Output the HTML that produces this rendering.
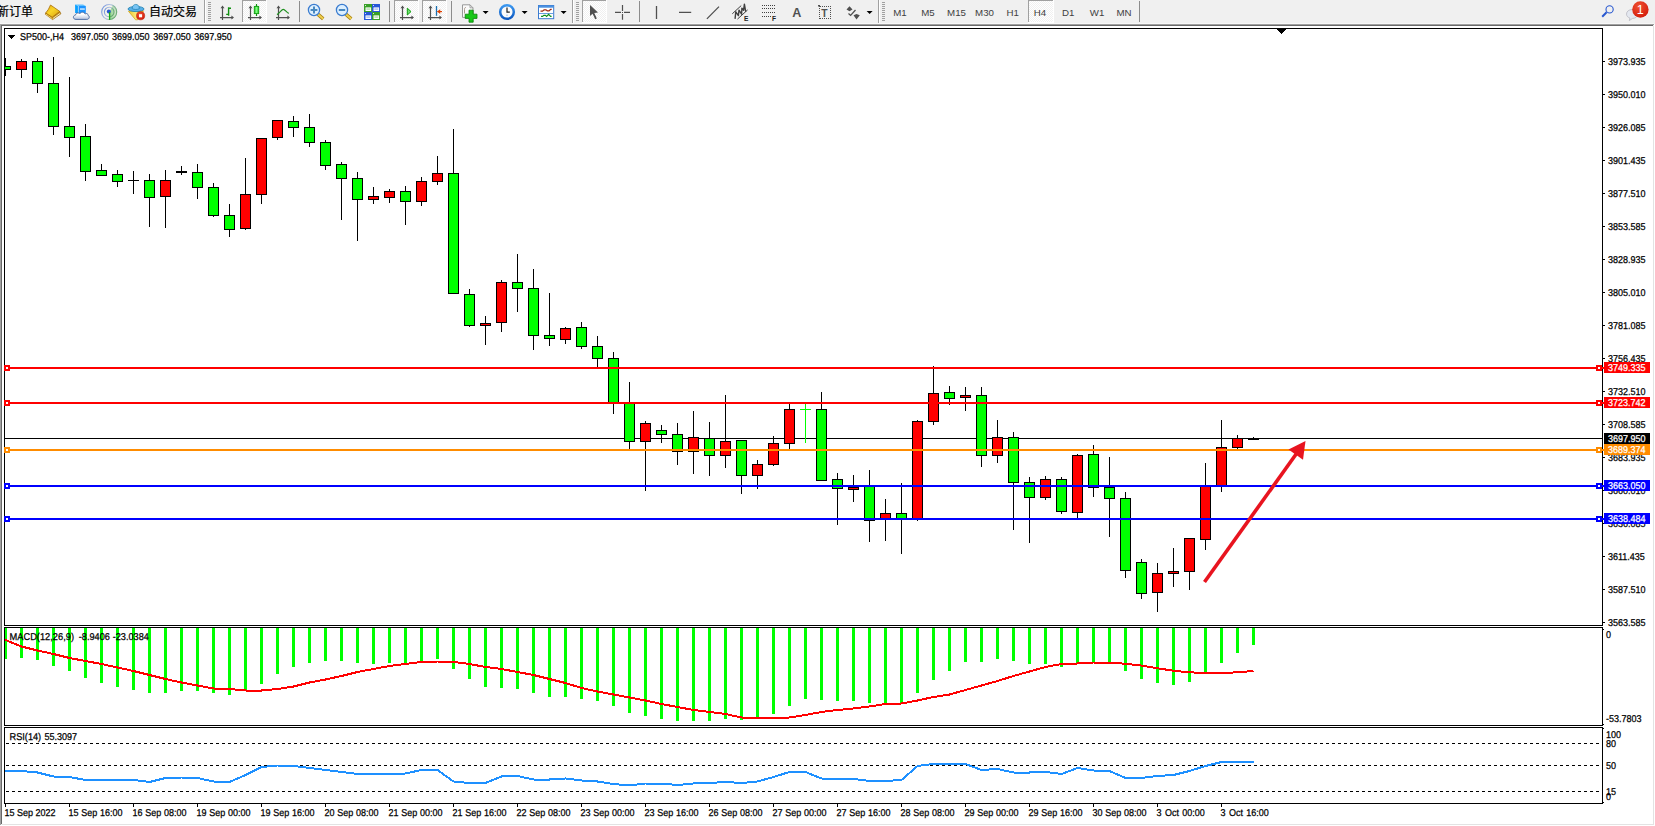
<!DOCTYPE html>
<html><head><meta charset="utf-8"><title>SP500-,H4</title>
<style>
html,body{margin:0;padding:0;}
body{width:1655px;height:826px;overflow:hidden;background:#f0f0f0;position:relative;font-family:"Liberation Sans","Noto Sans CJK SC",sans-serif;}


</style></head><body>
<svg width="1655" height="24" viewBox="0 0 1655 24" style="position:absolute;left:0;top:0" font-family="Liberation Sans, Noto Sans CJK SC, sans-serif">
<defs>
<pattern id="chk" width="2" height="2" patternUnits="userSpaceOnUse"><rect width="2" height="2" fill="#fff"/><rect width="1" height="1" fill="#f0f0f0"/><rect x="1" y="1" width="1" height="1" fill="#f0f0f0"/></pattern>
<linearGradient id="gold" x1="0" y1="0" x2="1" y2="1"><stop offset="0" stop-color="#e8b010"/><stop offset="0.45" stop-color="#f8d428"/><stop offset="1" stop-color="#d8a010"/></linearGradient>
<linearGradient id="gcan" x1="0" y1="0" x2="1" y2="0"><stop offset="0" stop-color="#20c020"/><stop offset="0.5" stop-color="#80ff80"/><stop offset="1" stop-color="#20c020"/></linearGradient>
<radialGradient id="redb" cx="0.4" cy="0.3" r="0.8"><stop offset="0" stop-color="#f05030"/><stop offset="1" stop-color="#d01808"/></radialGradient>
<linearGradient id="hdl" x1="0" y1="0" x2="1" y2="0"><stop offset="0" stop-color="#f8e070"/><stop offset="1" stop-color="#c09010"/></linearGradient>
<linearGradient id="clk" x1="0" y1="0" x2="0" y2="1"><stop offset="0" stop-color="#3c98f0"/><stop offset="1" stop-color="#0c58c0"/></linearGradient>
<linearGradient id="cld" x1="0" y1="0" x2="0" y2="1"><stop offset="0.3" stop-color="#ffffff"/><stop offset="1" stop-color="#b4c2dc"/></linearGradient>
<linearGradient id="rrg" x1="0" y1="0" x2="1" y2="0.4"><stop offset="0" stop-color="#3a68d8"/><stop offset="0.5" stop-color="#9ab0e0"/><stop offset="1" stop-color="#4a9858"/></linearGradient>
<linearGradient id="rsw" x1="0" y1="0" x2="1" y2="0"><stop offset="0" stop-color="#30b030"/><stop offset="1" stop-color="#c8e0c0"/></linearGradient>
<linearGradient id="fun" x1="0" y1="0" x2="1" y2="0"><stop offset="0" stop-color="#f0c828"/><stop offset="0.5" stop-color="#fbe878"/><stop offset="1" stop-color="#f0c030"/></linearGradient>
</defs>
<g shape-rendering="crispEdges">
<rect x="204" y="0" width="1" height="24" fill="#a0a0a0"/><rect x="205" y="0" width="1" height="24" fill="#fff"/>
<rect x="208" y="2" width="3" height="1" fill="#a0a0a0"/>
<rect x="208" y="4" width="3" height="1" fill="#a0a0a0"/>
<rect x="208" y="6" width="3" height="1" fill="#a0a0a0"/>
<rect x="208" y="8" width="3" height="1" fill="#a0a0a0"/>
<rect x="208" y="10" width="3" height="1" fill="#a0a0a0"/>
<rect x="208" y="12" width="3" height="1" fill="#a0a0a0"/>
<rect x="208" y="14" width="3" height="1" fill="#a0a0a0"/>
<rect x="208" y="16" width="3" height="1" fill="#a0a0a0"/>
<rect x="208" y="18" width="3" height="1" fill="#a0a0a0"/>
<rect x="208" y="20" width="3" height="1" fill="#a0a0a0"/>
<rect x="242" y="0" width="25" height="23" fill="url(#chk)"/>
<rect x="242" y="0" width="25" height="1" fill="#a0a0a0"/><rect x="242" y="0" width="1" height="22" fill="#a0a0a0"/>
<rect x="242" y="22" width="25" height="1" fill="#fff"/><rect x="266" y="0" width="1" height="23" fill="#fff"/>
<rect x="394" y="0" width="25" height="23" fill="url(#chk)"/>
<rect x="394" y="0" width="25" height="1" fill="#a0a0a0"/><rect x="394" y="0" width="1" height="22" fill="#a0a0a0"/>
<rect x="394" y="22" width="25" height="1" fill="#fff"/><rect x="418" y="0" width="1" height="23" fill="#fff"/>
<rect x="422" y="0" width="25" height="23" fill="url(#chk)"/>
<rect x="422" y="0" width="25" height="1" fill="#a0a0a0"/><rect x="422" y="0" width="1" height="22" fill="#a0a0a0"/>
<rect x="422" y="22" width="25" height="1" fill="#fff"/><rect x="446" y="0" width="1" height="23" fill="#fff"/>
<rect x="299" y="1" width="1" height="21" fill="#8c8c8c"/>
<rect x="389" y="1" width="1" height="21" fill="#8c8c8c"/>
<rect x="451" y="1" width="1" height="21" fill="#8c8c8c"/>
<rect x="572" y="0" width="1" height="24" fill="#a0a0a0"/><rect x="573" y="0" width="1" height="24" fill="#fff"/>
<rect x="576" y="2" width="3" height="1" fill="#a0a0a0"/>
<rect x="576" y="4" width="3" height="1" fill="#a0a0a0"/>
<rect x="576" y="6" width="3" height="1" fill="#a0a0a0"/>
<rect x="576" y="8" width="3" height="1" fill="#a0a0a0"/>
<rect x="576" y="10" width="3" height="1" fill="#a0a0a0"/>
<rect x="576" y="12" width="3" height="1" fill="#a0a0a0"/>
<rect x="576" y="14" width="3" height="1" fill="#a0a0a0"/>
<rect x="576" y="16" width="3" height="1" fill="#a0a0a0"/>
<rect x="576" y="18" width="3" height="1" fill="#a0a0a0"/>
<rect x="576" y="20" width="3" height="1" fill="#a0a0a0"/>
<rect x="582" y="0" width="25" height="23" fill="url(#chk)"/>
<rect x="582" y="0" width="25" height="1" fill="#a0a0a0"/><rect x="582" y="0" width="1" height="22" fill="#a0a0a0"/>
<rect x="582" y="22" width="25" height="1" fill="#fff"/><rect x="606" y="0" width="1" height="23" fill="#fff"/>
<rect x="639" y="1" width="1" height="21" fill="#8c8c8c"/>
<rect x="878" y="0" width="1" height="24" fill="#a0a0a0"/><rect x="879" y="0" width="1" height="24" fill="#fff"/>
<rect x="882" y="2" width="3" height="1" fill="#a0a0a0"/>
<rect x="882" y="4" width="3" height="1" fill="#a0a0a0"/>
<rect x="882" y="6" width="3" height="1" fill="#a0a0a0"/>
<rect x="882" y="8" width="3" height="1" fill="#a0a0a0"/>
<rect x="882" y="10" width="3" height="1" fill="#a0a0a0"/>
<rect x="882" y="12" width="3" height="1" fill="#a0a0a0"/>
<rect x="882" y="14" width="3" height="1" fill="#a0a0a0"/>
<rect x="882" y="16" width="3" height="1" fill="#a0a0a0"/>
<rect x="882" y="18" width="3" height="1" fill="#a0a0a0"/>
<rect x="882" y="20" width="3" height="1" fill="#a0a0a0"/>
<rect x="1028" y="0" width="26" height="23" fill="url(#chk)"/>
<rect x="1028" y="0" width="26" height="1" fill="#a0a0a0"/><rect x="1028" y="0" width="1" height="22" fill="#a0a0a0"/>
<rect x="1028" y="22" width="26" height="1" fill="#fff"/><rect x="1053" y="0" width="1" height="23" fill="#fff"/>
<rect x="1139" y="1" width="1" height="21" fill="#8c8c8c"/>
</g>
<text x="-3" y="15.8" font-size="12" fill="#000" stroke="#000" stroke-width="0.2">新订单</text>
<path d="M45.2,14.1 L52.6,19.6 L60.9,13.8 L59.8,11.4 L52.2,17.2 L45.8,13 Z" fill="#c89018" stroke="#9a6408" stroke-width="0.7" stroke-linejoin="round"/>
<path d="M52.9,18.5 L60.2,13.3" fill="none" stroke="#eee4b0" stroke-width="1"/>
<path d="M45.8,14 L52.3,18.6" fill="none" stroke="#f4d868" stroke-width="0.9"/>
<path d="M50.5,5 L59.8,11.4 L52.2,17.2 L45.7,13 Q48.8,9.6 50.5,5 Z" fill="url(#gold)" stroke="#a86c08" stroke-width="0.8" stroke-linejoin="round"/>
<path d="M75.1,4.6 L78.2,6 V13 H75.1 Z" fill="#08a0ff"/>
<path d="M75.1,4.4 H83 L85.8,6 H78.2 Z" fill="#60c0ff"/>
<rect x="78.4" y="6" width="7.4" height="7" fill="#1c94ff"/>
<path d="M78.3,6V13" stroke="#d8f0ff" stroke-width="0.5"/>
<rect x="80" y="8.4" width="4.8" height="1.3" fill="#e4f4ff"/>
<path d="M76,19.4 C72.6,19.4 72.6,15.4 75.6,15 C75.8,12.8 78.6,12.2 79.8,13.8 C80.6,11.6 84.4,11.6 85,14 C86.4,13 88.4,13.8 88,15.4 C90,16 89.6,19.4 86.8,19.4 Z" fill="url(#cld)" stroke="#44649c" stroke-width="0.9"/>
<circle cx="109.2" cy="12" r="8" fill="#f2f2ec"/>
<path d="M109.2,12 L109.2,20 A8,8 0 0 0 117.2,12 A8,8 0 0 0 113.2,5.1 Z" fill="url(#rsw)" opacity="0.5"/>
<g fill="none" stroke-width="1.1" opacity="0.75"><circle cx="109.2" cy="12" r="7.5" stroke="url(#rrg)"/><circle cx="109.2" cy="12" r="4.8" stroke="url(#rrg)"/></g>
<circle cx="108.8" cy="11.6" r="2" fill="#2858d0"/><path d="M109.6,12V19.9" stroke="#18a818" stroke-width="1.3"/>
<path d="M128.4,11.2 L143.6,10.8 L137.6,19.8 H135.6 Z" fill="url(#fun)" stroke="#d0a010" stroke-width="0.7" stroke-linejoin="round"/>
<ellipse cx="136" cy="9" rx="8" ry="2.6" fill="#58b0e8" stroke="#2080b0" stroke-width="0.8"/><path d="M132.2,8.6 C132.2,3 139.4,3 139.4,8.6 C137.5,9.8 134,9.8 132.2,8.6Z" fill="#78c4f4" stroke="#2080b0" stroke-width="0.7"/>
<circle cx="140.6" cy="15.75" r="4.1" fill="url(#redb)" stroke="#b81800" stroke-width="0.5"/><rect x="139" y="14.2" width="3.1" height="3.1" fill="#fff"/>
<text x="149" y="15.8" font-size="12" fill="#000" stroke="#000" stroke-width="0.2">自动交易</text>
<g stroke="#505050" stroke-width="1.2" fill="none"><path d="M222.5,6.8V20M220,17.6H233"/></g>
<path d="M222.5,5.6l-2,2.6h4zM234,17.6l-2.6,-2v4z" fill="#505050"/>
<path d="M228.6,7.3V15.8M228.6,8.3H231M228.6,14.4H226.2" stroke="#109010" stroke-width="1.4" fill="none"/>
<g stroke="#505050" stroke-width="1.2" fill="none"><path d="M250.5,6.8V20M248,17.6H261"/></g>
<path d="M250.5,5.6l-2,2.6h4zM262,17.6l-2.6,-2v4z" fill="#505050"/>
<path d="M256.5,4V16" stroke="#109010" stroke-width="1.2"/><rect x="254.3" y="6.4" width="4.4" height="7.2" fill="url(#gcan)" stroke="#10a010" stroke-width="0.9"/>
<g stroke="#505050" stroke-width="1.2" fill="none"><path d="M278.5,6.8V20M276,17.6H289"/></g>
<path d="M278.5,5.6l-2,2.6h4zM290,17.6l-2.6,-2v4z" fill="#505050"/>
<path d="M277,14.6 C280,13 281.5,9.3 283.3,9.3 C285,9.3 286.5,12.5 288.8,13.4" stroke="#209020" stroke-width="1.2" fill="none"/>
<path d="M317.8,14.2 L323.2,18.8" stroke="#a88010" stroke-width="3.6" stroke-linecap="butt"/><path d="M317.8,14.2 L323.2,18.8" stroke="#f0d050" stroke-width="2" />
<circle cx="314" cy="10" r="5.6" fill="#dcefff" stroke="#3a7cd0" stroke-width="1.3"/>
<path d="M310.6,10H317.4M314,6.6V13.4" stroke="#4888c0" stroke-width="2"/>
<path d="M345.8,14.2 L351.2,18.8" stroke="#a88010" stroke-width="3.6" stroke-linecap="butt"/><path d="M345.8,14.2 L351.2,18.8" stroke="#f0d050" stroke-width="2" />
<circle cx="342" cy="10" r="5.6" fill="#dcefff" stroke="#3a7cd0" stroke-width="1.3"/>
<path d="M338.8,10H345.2" stroke="#4888c0" stroke-width="2"/>
<rect x="364" y="4" width="8" height="8" fill="#38a028"/><rect x="365.5" y="7.4" width="5.6" height="3.6" fill="#fff"/><rect x="366.3" y="8.6" width="4" height="0.9" fill="#38a028" opacity="0.6"/><rect x="365" y="5" width="1" height="1" fill="#fff" opacity="0.8"/>
<rect x="372" y="4" width="8" height="8" fill="#2858d8"/><rect x="373.5" y="7.4" width="5.6" height="3.6" fill="#fff"/><rect x="374.3" y="8.6" width="4" height="0.9" fill="#2858d8" opacity="0.6"/><rect x="373" y="5" width="1" height="1" fill="#fff" opacity="0.8"/>
<rect x="364" y="12" width="8" height="8" fill="#2858d8"/><rect x="365.5" y="15.4" width="5.6" height="3.6" fill="#fff"/><rect x="366.3" y="16.6" width="4" height="0.9" fill="#2858d8" opacity="0.6"/><rect x="365" y="13" width="1" height="1" fill="#fff" opacity="0.8"/>
<rect x="372" y="12" width="8" height="8" fill="#38a028"/><rect x="373.5" y="15.4" width="5.6" height="3.6" fill="#fff"/><rect x="374.3" y="16.6" width="4" height="0.9" fill="#38a028" opacity="0.6"/><rect x="373" y="13" width="1" height="1" fill="#fff" opacity="0.8"/>
<g stroke="#505050" stroke-width="1.2" fill="none"><path d="M402.5,6.8V20M400,17.6H413"/></g>
<path d="M402.5,5.6l-2,2.6h4zM414,17.6l-2.6,-2v4z" fill="#505050"/>
<path d="M407.3,8.2V15L411,11.6Z" fill="#70e070" stroke="#10a010" stroke-width="1"/>
<g stroke="#505050" stroke-width="1.2" fill="none"><path d="M430.5,6.8V20M428,17.6H441"/></g>
<path d="M430.5,5.6l-2,2.6h4zM442,17.6l-2.6,-2v4z" fill="#505050"/>
<path d="M436.5,6V15.8" stroke="#1a6fb0" stroke-width="1.3"/><path d="M437.4,11.6H442" stroke="#e04000" stroke-width="1.2"/><path d="M437.2,11.6l3,-2.4v4.8z" fill="#e04000"/>
<path d="M462.5,4.8 H470 L473,7.8 V17.4 H462.5 Z" fill="#fafafa" stroke="#909090" stroke-width="0.9"/><path d="M470,4.8V7.8H473" fill="none" stroke="#909090" stroke-width="0.8"/><path d="M465.8,7.5c-1.3,0-1.3,1-1.3,2v4" stroke="#a09080" stroke-width="0.9" fill="none"/>
<path d="M469,10.2h4.2v4h3.8v4.2h-3.8v3.8h-4.2v-3.8h-3.8v-4.2h3.8z" fill="#18c818" stroke="#088008" stroke-width="0.8"/>
<polygon points="482.6,11 488.6,11 485.6,14" fill="#000" shape-rendering="auto"/>
<circle cx="507" cy="12" r="6.8" fill="#fbfbfb" stroke="url(#clk)" stroke-width="2.5"/><path d="M507,7.6V12.2H509.8" stroke="#202020" stroke-width="1.2" fill="none"/><circle cx="507" cy="15.2" r="0.6" fill="#60a0f0"/>
<polygon points="521.6,11 527.6,11 524.6,14" fill="#000" shape-rendering="auto"/>
<rect x="538.5" y="5.5" width="15.2" height="13.2" fill="#fff" stroke="#3a7bd0" stroke-width="1"/><rect x="538.5" y="5.5" width="15.2" height="2.2" fill="#4a90e0"/><rect x="539" y="12.5" width="14.4" height="1" fill="#6a9ee0" shape-rendering="crispEdges"/>
<path d="M540.5,11.2h2l1.6,-1.4h1.8l1.4,1h1.8l1.6,-1.4h1" stroke="#a02810" stroke-width="1.2" fill="none"/><path d="M541,16.4h1.6l1.2,-1h1.6l1.2,1l2,-2l2,2h1" stroke="#109020" stroke-width="1.2" fill="none"/>
<polygon points="560.6,11 566.6,11 563.6,14" fill="#000" shape-rendering="auto"/>
<path d="M590,5 L590,16 L592.6,13.7 L595.2,19.2 L596.8,18.4 L594.3,13 L598,12.4 Z" fill="#505050"/>
<path d="M615,12.4H621M624,12.4H630M622.5,5V11M622.5,14V19.8" stroke="#505050" stroke-width="1.2"/><rect x="622" y="12" width="1" height="1" fill="#505050"/>
<path d="M656.5,6.1V19M679,12.4H691.2M706.9,18.9L719,6.6" stroke="#505050" stroke-width="1.3"/>
<g stroke="#404040" fill="none" stroke-linejoin="round" stroke-linecap="round"><path d="M732.6,13.5L740.9,5.9M737.8,18.8L747.3,10.2" stroke-width="1"/><path d="M735.1,18.4L735.8,11.8L738.4,15.6L739,10.2L741.6,14.2L741.9,8.1L743.6,10.2L744.4,4.2L745.6,11.2" stroke-width="1.4"/></g>
<text x="743.9" y="20.8" font-size="6.6" font-weight="bold" fill="#202020">E</text>
<rect x="762" y="5" width="1" height="1" fill="#404040" shape-rendering="crispEdges"/>
<rect x="764" y="5" width="1" height="1" fill="#404040" shape-rendering="crispEdges"/>
<rect x="766" y="5" width="1" height="1" fill="#404040" shape-rendering="crispEdges"/>
<rect x="768" y="5" width="1" height="1" fill="#404040" shape-rendering="crispEdges"/>
<rect x="770" y="5" width="1" height="1" fill="#404040" shape-rendering="crispEdges"/>
<rect x="772" y="5" width="1" height="1" fill="#404040" shape-rendering="crispEdges"/>
<rect x="774" y="5" width="1" height="1" fill="#404040" shape-rendering="crispEdges"/>
<rect x="762" y="8" width="1" height="1" fill="#404040" shape-rendering="crispEdges"/>
<rect x="764" y="8" width="1" height="1" fill="#404040" shape-rendering="crispEdges"/>
<rect x="766" y="8" width="1" height="1" fill="#404040" shape-rendering="crispEdges"/>
<rect x="768" y="8" width="1" height="1" fill="#404040" shape-rendering="crispEdges"/>
<rect x="770" y="8" width="1" height="1" fill="#404040" shape-rendering="crispEdges"/>
<rect x="772" y="8" width="1" height="1" fill="#404040" shape-rendering="crispEdges"/>
<rect x="774" y="8" width="1" height="1" fill="#404040" shape-rendering="crispEdges"/>
<rect x="762" y="12" width="1" height="1" fill="#404040" shape-rendering="crispEdges"/>
<rect x="764" y="12" width="1" height="1" fill="#404040" shape-rendering="crispEdges"/>
<rect x="766" y="12" width="1" height="1" fill="#404040" shape-rendering="crispEdges"/>
<rect x="768" y="12" width="1" height="1" fill="#404040" shape-rendering="crispEdges"/>
<rect x="770" y="12" width="1" height="1" fill="#404040" shape-rendering="crispEdges"/>
<rect x="772" y="12" width="1" height="1" fill="#404040" shape-rendering="crispEdges"/>
<rect x="774" y="12" width="1" height="1" fill="#404040" shape-rendering="crispEdges"/>
<rect x="762" y="16" width="1" height="1" fill="#404040" shape-rendering="crispEdges"/>
<rect x="764" y="16" width="1" height="1" fill="#404040" shape-rendering="crispEdges"/>
<rect x="766" y="16" width="1" height="1" fill="#404040" shape-rendering="crispEdges"/>
<rect x="768" y="16" width="1" height="1" fill="#404040" shape-rendering="crispEdges"/>
<rect x="770" y="16" width="1" height="1" fill="#404040" shape-rendering="crispEdges"/>
<text x="771.9" y="20.8" font-size="6.6" font-weight="bold" fill="#202020">F</text>
<text x="792.2" y="17" font-size="12.6" font-weight="bold" fill="#505050">A</text>
<rect x="820" y="6" width="1" height="1" fill="#505050" shape-rendering="crispEdges"/><rect x="820" y="18" width="1" height="1" fill="#505050" shape-rendering="crispEdges"/>
<rect x="822" y="6" width="1" height="1" fill="#505050" shape-rendering="crispEdges"/><rect x="822" y="18" width="1" height="1" fill="#505050" shape-rendering="crispEdges"/>
<rect x="824" y="6" width="1" height="1" fill="#505050" shape-rendering="crispEdges"/><rect x="824" y="18" width="1" height="1" fill="#505050" shape-rendering="crispEdges"/>
<rect x="826" y="6" width="1" height="1" fill="#505050" shape-rendering="crispEdges"/><rect x="826" y="18" width="1" height="1" fill="#505050" shape-rendering="crispEdges"/>
<rect x="828" y="6" width="1" height="1" fill="#505050" shape-rendering="crispEdges"/><rect x="828" y="18" width="1" height="1" fill="#505050" shape-rendering="crispEdges"/>
<rect x="830" y="6" width="1" height="1" fill="#505050" shape-rendering="crispEdges"/><rect x="830" y="18" width="1" height="1" fill="#505050" shape-rendering="crispEdges"/>
<rect x="819" y="6" width="1" height="1" fill="#505050" shape-rendering="crispEdges"/><rect x="830" y="6" width="1" height="1" fill="#505050" shape-rendering="crispEdges"/>
<rect x="819" y="8" width="1" height="1" fill="#505050" shape-rendering="crispEdges"/><rect x="830" y="8" width="1" height="1" fill="#505050" shape-rendering="crispEdges"/>
<rect x="819" y="10" width="1" height="1" fill="#505050" shape-rendering="crispEdges"/><rect x="830" y="10" width="1" height="1" fill="#505050" shape-rendering="crispEdges"/>
<rect x="819" y="12" width="1" height="1" fill="#505050" shape-rendering="crispEdges"/><rect x="830" y="12" width="1" height="1" fill="#505050" shape-rendering="crispEdges"/>
<rect x="819" y="14" width="1" height="1" fill="#505050" shape-rendering="crispEdges"/><rect x="830" y="14" width="1" height="1" fill="#505050" shape-rendering="crispEdges"/>
<rect x="819" y="16" width="1" height="1" fill="#505050" shape-rendering="crispEdges"/><rect x="830" y="16" width="1" height="1" fill="#505050" shape-rendering="crispEdges"/>
<rect x="819" y="18" width="1" height="1" fill="#505050" shape-rendering="crispEdges"/><rect x="830" y="18" width="1" height="1" fill="#505050" shape-rendering="crispEdges"/>
<rect x="818" y="5" width="2" height="1.5" fill="#505050"/>
<text x="821.3" y="16.7" font-size="10.4" font-weight="bold" fill="#505050">T</text>
<path d="M846.5,9.6L849.5,6.2L852.5,9.6L849.5,11.2ZM853.5,15.2L856.5,19.4L859.8,15.2L856.5,14Z" fill="#505050"/><path d="M848.5,13.5L850.6,15.4L855.5,10" stroke="#505050" stroke-width="1.3" fill="none"/>
<polygon points="866.6,11 872.6,11 869.6,14" fill="#000" shape-rendering="auto"/>
<text x="900" y="16" font-size="9.7" fill="#404040" text-anchor="middle">M1</text>
<text x="928" y="16" font-size="9.7" fill="#404040" text-anchor="middle">M5</text>
<text x="956.5" y="16" font-size="9.7" fill="#404040" text-anchor="middle">M15</text>
<text x="984.5" y="16" font-size="9.7" fill="#404040" text-anchor="middle">M30</text>
<text x="1012.6" y="16" font-size="9.7" fill="#404040" text-anchor="middle">H1</text>
<text x="1040" y="16" font-size="9.7" fill="#404040" text-anchor="middle">H4</text>
<text x="1068.3" y="16" font-size="9.7" fill="#404040" text-anchor="middle">D1</text>
<text x="1097" y="16" font-size="9.7" fill="#404040" text-anchor="middle">W1</text>
<text x="1124" y="16" font-size="9.7" fill="#404040" text-anchor="middle">MN</text>
<circle cx="1609.6" cy="9.4" r="3.6" fill="none" stroke="#2858d0" stroke-width="1.1"/><path d="M1606.6,12.2L1602.2,16.8" stroke="#2858d0" stroke-width="2"/>
<path d="M1626.5,14.2c0,-3 2.5,-4.6 5.5,-4.6s5.5,1.6,5.5,4.6s-2.5,4.2-5,4.2l-3.2,2.2l0.6,-2.6c-2,-0.6-3.4,-2-3.4,-3.8z" fill="#e4e8f0" stroke="#b8b8c0" stroke-width="0.8"/>
<circle cx="1640.4" cy="9.5" r="8.2" fill="url(#redb)"/><text x="1640.3" y="14" font-size="12.5" fill="#fff" text-anchor="middle">1</text>
</svg>
<svg width="1655" height="826" viewBox="0 0 1655 826" style="position:absolute;left:0;top:0" font-family="Liberation Sans, sans-serif" shape-rendering="crispEdges">
<rect x="2" y="26" width="1651" height="798" fill="#fff"/>
<rect x="2" y="824" width="1652" height="1" fill="#e3e3e3"/>
<rect x="1653" y="26" width="1" height="799" fill="#e3e3e3"/>
<rect x="1654" y="24" width="1" height="802" fill="#fff"/>
<rect x="0" y="825" width="1655" height="1" fill="#fff"/>
<rect x="0" y="23" width="1654" height="1" fill="#f7f7f7"/>
<rect x="0" y="24" width="1" height="801" fill="#a0a0a0"/>
<rect x="1" y="25" width="1" height="799" fill="#696969"/>
<rect x="0" y="24" width="1654" height="1" fill="#a0a0a0"/>
<rect x="1" y="25" width="1652" height="1" fill="#696969"/>
<defs><clipPath id="cm"><rect x="5" y="29" width="1597" height="596"/></clipPath></defs>
<g clip-path="url(#cm)">
<rect x="5" y="438" width="1597" height="1" fill="#000"/>
<rect x="5" y="58" width="1" height="18" fill="#000"/>
<rect x="0" y="66" width="11" height="4" fill="#000"/>
<rect x="1" y="67" width="9" height="2" fill="#00ff00"/>
<rect x="21" y="59" width="1" height="19" fill="#000"/>
<rect x="16" y="61" width="11" height="9" fill="#000"/>
<rect x="17" y="62" width="9" height="7" fill="#ff0000"/>
<rect x="37" y="58" width="1" height="35" fill="#000"/>
<rect x="32" y="61" width="11" height="23" fill="#000"/>
<rect x="33" y="62" width="9" height="21" fill="#00ff00"/>
<rect x="53" y="57" width="1" height="78" fill="#000"/>
<rect x="48" y="83" width="11" height="44" fill="#000"/>
<rect x="49" y="84" width="9" height="42" fill="#00ff00"/>
<rect x="69" y="77" width="1" height="80" fill="#000"/>
<rect x="64" y="126" width="11" height="12" fill="#000"/>
<rect x="65" y="127" width="9" height="10" fill="#00ff00"/>
<rect x="85" y="124" width="1" height="57" fill="#000"/>
<rect x="80" y="136" width="11" height="36" fill="#000"/>
<rect x="81" y="137" width="9" height="34" fill="#00ff00"/>
<rect x="101" y="164" width="1" height="12" fill="#000"/>
<rect x="96" y="170" width="11" height="6" fill="#000"/>
<rect x="97" y="171" width="9" height="4" fill="#00ff00"/>
<rect x="117" y="170" width="1" height="17" fill="#000"/>
<rect x="112" y="174" width="11" height="8" fill="#000"/>
<rect x="113" y="175" width="9" height="6" fill="#00ff00"/>
<rect x="133" y="171" width="1" height="23" fill="#000"/>
<rect x="128" y="180" width="11" height="1" fill="#000"/>
<rect x="149" y="174" width="1" height="53" fill="#000"/>
<rect x="144" y="180" width="11" height="18" fill="#000"/>
<rect x="145" y="181" width="9" height="16" fill="#00ff00"/>
<rect x="165" y="170" width="1" height="58" fill="#000"/>
<rect x="160" y="180" width="11" height="17" fill="#000"/>
<rect x="161" y="181" width="9" height="15" fill="#ff0000"/>
<rect x="181" y="166" width="1" height="9" fill="#000"/>
<rect x="176" y="171" width="11" height="2" fill="#000"/>
<rect x="197" y="164" width="1" height="35" fill="#000"/>
<rect x="192" y="172" width="11" height="16" fill="#000"/>
<rect x="193" y="173" width="9" height="14" fill="#00ff00"/>
<rect x="213" y="183" width="1" height="34" fill="#000"/>
<rect x="208" y="187" width="11" height="29" fill="#000"/>
<rect x="209" y="188" width="9" height="27" fill="#00ff00"/>
<rect x="229" y="204" width="1" height="33" fill="#000"/>
<rect x="224" y="215" width="11" height="15" fill="#000"/>
<rect x="225" y="216" width="9" height="13" fill="#00ff00"/>
<rect x="245" y="158" width="1" height="72" fill="#000"/>
<rect x="240" y="194" width="11" height="35" fill="#000"/>
<rect x="241" y="195" width="9" height="33" fill="#ff0000"/>
<rect x="261" y="138" width="1" height="66" fill="#000"/>
<rect x="256" y="138" width="11" height="57" fill="#000"/>
<rect x="257" y="139" width="9" height="55" fill="#ff0000"/>
<rect x="277" y="120" width="1" height="20" fill="#000"/>
<rect x="272" y="120" width="11" height="18" fill="#000"/>
<rect x="273" y="121" width="9" height="16" fill="#ff0000"/>
<rect x="293" y="116" width="1" height="21" fill="#000"/>
<rect x="288" y="121" width="11" height="7" fill="#000"/>
<rect x="289" y="122" width="9" height="5" fill="#00ff00"/>
<rect x="309" y="114" width="1" height="33" fill="#000"/>
<rect x="304" y="127" width="11" height="16" fill="#000"/>
<rect x="305" y="128" width="9" height="14" fill="#00ff00"/>
<rect x="325" y="140" width="1" height="30" fill="#000"/>
<rect x="320" y="142" width="11" height="24" fill="#000"/>
<rect x="321" y="143" width="9" height="22" fill="#00ff00"/>
<rect x="341" y="162" width="1" height="58" fill="#000"/>
<rect x="336" y="164" width="11" height="15" fill="#000"/>
<rect x="337" y="165" width="9" height="13" fill="#00ff00"/>
<rect x="357" y="172" width="1" height="69" fill="#000"/>
<rect x="352" y="178" width="11" height="22" fill="#000"/>
<rect x="353" y="179" width="9" height="20" fill="#00ff00"/>
<rect x="373" y="187" width="1" height="17" fill="#000"/>
<rect x="368" y="196" width="11" height="4" fill="#000"/>
<rect x="369" y="197" width="9" height="2" fill="#ff0000"/>
<rect x="389" y="189" width="1" height="14" fill="#000"/>
<rect x="384" y="191" width="11" height="7" fill="#000"/>
<rect x="385" y="192" width="9" height="5" fill="#ff0000"/>
<rect x="405" y="186" width="1" height="39" fill="#000"/>
<rect x="400" y="191" width="11" height="11" fill="#000"/>
<rect x="401" y="192" width="9" height="9" fill="#00ff00"/>
<rect x="421" y="177" width="1" height="29" fill="#000"/>
<rect x="416" y="181" width="11" height="21" fill="#000"/>
<rect x="417" y="182" width="9" height="19" fill="#ff0000"/>
<rect x="437" y="156" width="1" height="29" fill="#000"/>
<rect x="432" y="173" width="11" height="9" fill="#000"/>
<rect x="433" y="174" width="9" height="7" fill="#ff0000"/>
<rect x="453" y="129" width="1" height="165" fill="#000"/>
<rect x="448" y="173" width="11" height="121" fill="#000"/>
<rect x="449" y="174" width="9" height="119" fill="#00ff00"/>
<rect x="469" y="289" width="1" height="38" fill="#000"/>
<rect x="464" y="294" width="11" height="32" fill="#000"/>
<rect x="465" y="295" width="9" height="30" fill="#00ff00"/>
<rect x="485" y="316" width="1" height="29" fill="#000"/>
<rect x="480" y="323" width="11" height="3" fill="#000"/>
<rect x="481" y="324" width="9" height="1" fill="#ff0000"/>
<rect x="501" y="280" width="1" height="52" fill="#000"/>
<rect x="496" y="282" width="11" height="41" fill="#000"/>
<rect x="497" y="283" width="9" height="39" fill="#ff0000"/>
<rect x="517" y="254" width="1" height="58" fill="#000"/>
<rect x="512" y="282" width="11" height="7" fill="#000"/>
<rect x="513" y="283" width="9" height="5" fill="#00ff00"/>
<rect x="533" y="269" width="1" height="81" fill="#000"/>
<rect x="528" y="288" width="11" height="48" fill="#000"/>
<rect x="529" y="289" width="9" height="46" fill="#00ff00"/>
<rect x="549" y="293" width="1" height="53" fill="#000"/>
<rect x="544" y="335" width="11" height="4" fill="#000"/>
<rect x="545" y="336" width="9" height="2" fill="#00ff00"/>
<rect x="565" y="327" width="1" height="17" fill="#000"/>
<rect x="560" y="328" width="11" height="12" fill="#000"/>
<rect x="561" y="329" width="9" height="10" fill="#ff0000"/>
<rect x="581" y="322" width="1" height="27" fill="#000"/>
<rect x="576" y="327" width="11" height="20" fill="#000"/>
<rect x="577" y="328" width="9" height="18" fill="#00ff00"/>
<rect x="597" y="336" width="1" height="31" fill="#000"/>
<rect x="592" y="346" width="11" height="13" fill="#000"/>
<rect x="593" y="347" width="9" height="11" fill="#00ff00"/>
<rect x="613" y="352" width="1" height="62" fill="#000"/>
<rect x="608" y="358" width="11" height="45" fill="#000"/>
<rect x="609" y="359" width="9" height="43" fill="#00ff00"/>
<rect x="629" y="382" width="1" height="67" fill="#000"/>
<rect x="624" y="402" width="11" height="40" fill="#000"/>
<rect x="625" y="403" width="9" height="38" fill="#00ff00"/>
<rect x="645" y="421" width="1" height="70" fill="#000"/>
<rect x="640" y="423" width="11" height="19" fill="#000"/>
<rect x="641" y="424" width="9" height="17" fill="#ff0000"/>
<rect x="661" y="425" width="1" height="18" fill="#000"/>
<rect x="656" y="430" width="11" height="5" fill="#000"/>
<rect x="657" y="431" width="9" height="3" fill="#00ff00"/>
<rect x="677" y="423" width="1" height="42" fill="#000"/>
<rect x="672" y="434" width="11" height="18" fill="#000"/>
<rect x="673" y="435" width="9" height="16" fill="#00ff00"/>
<rect x="693" y="411" width="1" height="63" fill="#000"/>
<rect x="688" y="437" width="11" height="15" fill="#000"/>
<rect x="689" y="438" width="9" height="13" fill="#ff0000"/>
<rect x="709" y="422" width="1" height="54" fill="#000"/>
<rect x="704" y="438" width="11" height="18" fill="#000"/>
<rect x="705" y="439" width="9" height="16" fill="#00ff00"/>
<rect x="725" y="395" width="1" height="73" fill="#000"/>
<rect x="720" y="441" width="11" height="15" fill="#000"/>
<rect x="721" y="442" width="9" height="13" fill="#ff0000"/>
<rect x="741" y="440" width="1" height="54" fill="#000"/>
<rect x="736" y="440" width="11" height="36" fill="#000"/>
<rect x="737" y="441" width="9" height="34" fill="#00ff00"/>
<rect x="757" y="460" width="1" height="29" fill="#000"/>
<rect x="752" y="464" width="11" height="12" fill="#000"/>
<rect x="753" y="465" width="9" height="10" fill="#ff0000"/>
<rect x="773" y="436" width="1" height="30" fill="#000"/>
<rect x="768" y="443" width="11" height="22" fill="#000"/>
<rect x="769" y="444" width="9" height="20" fill="#ff0000"/>
<rect x="789" y="404" width="1" height="45" fill="#000"/>
<rect x="784" y="409" width="11" height="35" fill="#000"/>
<rect x="785" y="410" width="9" height="33" fill="#ff0000"/>
<rect x="805" y="404" width="1" height="39" fill="#00ff00"/>
<rect x="800" y="409" width="11" height="1" fill="#00ff00"/>
<rect x="821" y="392" width="1" height="89" fill="#000"/>
<rect x="816" y="409" width="11" height="72" fill="#000"/>
<rect x="817" y="410" width="9" height="70" fill="#00ff00"/>
<rect x="837" y="473" width="1" height="52" fill="#000"/>
<rect x="832" y="479" width="11" height="10" fill="#000"/>
<rect x="833" y="480" width="9" height="8" fill="#00ff00"/>
<rect x="853" y="475" width="1" height="27" fill="#000"/>
<rect x="848" y="487" width="11" height="3" fill="#000"/>
<rect x="849" y="488" width="9" height="1" fill="#ff0000"/>
<rect x="869" y="470" width="1" height="72" fill="#000"/>
<rect x="864" y="486" width="11" height="35" fill="#000"/>
<rect x="865" y="487" width="9" height="33" fill="#00ff00"/>
<rect x="885" y="499" width="1" height="42" fill="#000"/>
<rect x="880" y="513" width="11" height="6" fill="#000"/>
<rect x="881" y="514" width="9" height="4" fill="#ff0000"/>
<rect x="901" y="483" width="1" height="71" fill="#000"/>
<rect x="896" y="513" width="11" height="6" fill="#000"/>
<rect x="897" y="514" width="9" height="4" fill="#00ff00"/>
<rect x="917" y="420" width="1" height="101" fill="#000"/>
<rect x="912" y="421" width="11" height="98" fill="#000"/>
<rect x="913" y="422" width="9" height="96" fill="#ff0000"/>
<rect x="933" y="366" width="1" height="59" fill="#000"/>
<rect x="928" y="393" width="11" height="29" fill="#000"/>
<rect x="929" y="394" width="9" height="27" fill="#ff0000"/>
<rect x="949" y="386" width="1" height="19" fill="#000"/>
<rect x="944" y="392" width="11" height="7" fill="#000"/>
<rect x="945" y="393" width="9" height="5" fill="#00ff00"/>
<rect x="965" y="387" width="1" height="24" fill="#000"/>
<rect x="960" y="395" width="11" height="3" fill="#000"/>
<rect x="961" y="396" width="9" height="1" fill="#ff0000"/>
<rect x="981" y="387" width="1" height="80" fill="#000"/>
<rect x="976" y="395" width="11" height="61" fill="#000"/>
<rect x="977" y="396" width="9" height="59" fill="#00ff00"/>
<rect x="997" y="420" width="1" height="43" fill="#000"/>
<rect x="992" y="437" width="11" height="19" fill="#000"/>
<rect x="993" y="438" width="9" height="17" fill="#ff0000"/>
<rect x="1013" y="432" width="1" height="98" fill="#000"/>
<rect x="1008" y="437" width="11" height="46" fill="#000"/>
<rect x="1009" y="438" width="9" height="44" fill="#00ff00"/>
<rect x="1029" y="477" width="1" height="66" fill="#000"/>
<rect x="1024" y="482" width="11" height="16" fill="#000"/>
<rect x="1025" y="483" width="9" height="14" fill="#00ff00"/>
<rect x="1045" y="476" width="1" height="24" fill="#000"/>
<rect x="1040" y="479" width="11" height="19" fill="#000"/>
<rect x="1041" y="480" width="9" height="17" fill="#ff0000"/>
<rect x="1061" y="477" width="1" height="37" fill="#000"/>
<rect x="1056" y="479" width="11" height="33" fill="#000"/>
<rect x="1057" y="480" width="9" height="31" fill="#00ff00"/>
<rect x="1077" y="454" width="1" height="64" fill="#000"/>
<rect x="1072" y="455" width="11" height="58" fill="#000"/>
<rect x="1073" y="456" width="9" height="56" fill="#ff0000"/>
<rect x="1093" y="445" width="1" height="52" fill="#000"/>
<rect x="1088" y="454" width="11" height="34" fill="#000"/>
<rect x="1089" y="455" width="9" height="32" fill="#00ff00"/>
<rect x="1109" y="457" width="1" height="80" fill="#000"/>
<rect x="1104" y="487" width="11" height="12" fill="#000"/>
<rect x="1105" y="488" width="9" height="10" fill="#00ff00"/>
<rect x="1125" y="492" width="1" height="86" fill="#000"/>
<rect x="1120" y="498" width="11" height="73" fill="#000"/>
<rect x="1121" y="499" width="9" height="71" fill="#00ff00"/>
<rect x="1141" y="559" width="1" height="40" fill="#000"/>
<rect x="1136" y="562" width="11" height="32" fill="#000"/>
<rect x="1137" y="563" width="9" height="30" fill="#00ff00"/>
<rect x="1157" y="563" width="1" height="49" fill="#000"/>
<rect x="1152" y="573" width="11" height="20" fill="#000"/>
<rect x="1153" y="574" width="9" height="18" fill="#ff0000"/>
<rect x="1173" y="548" width="1" height="39" fill="#000"/>
<rect x="1168" y="571" width="11" height="3" fill="#000"/>
<rect x="1169" y="572" width="9" height="1" fill="#ff0000"/>
<rect x="1189" y="538" width="1" height="52" fill="#000"/>
<rect x="1184" y="538" width="11" height="34" fill="#000"/>
<rect x="1185" y="539" width="9" height="32" fill="#ff0000"/>
<rect x="1205" y="463" width="1" height="87" fill="#000"/>
<rect x="1200" y="486" width="11" height="54" fill="#000"/>
<rect x="1201" y="487" width="9" height="52" fill="#ff0000"/>
<rect x="1221" y="420" width="1" height="72" fill="#000"/>
<rect x="1216" y="447" width="11" height="40" fill="#000"/>
<rect x="1217" y="448" width="9" height="38" fill="#ff0000"/>
<rect x="1237" y="435" width="1" height="14" fill="#000"/>
<rect x="1232" y="438" width="11" height="10" fill="#000"/>
<rect x="1233" y="439" width="9" height="8" fill="#ff0000"/>
<rect x="1253" y="437" width="1" height="3" fill="#000"/>
<rect x="1248" y="439" width="11" height="1" fill="#000"/>
</g>
<rect x="4" y="28" width="1599" height="1" fill="#000"/>
<rect x="4" y="625" width="1599" height="1" fill="#000"/>
<rect x="4" y="28" width="1" height="598" fill="#000"/>
<rect x="1602" y="28" width="1" height="598" fill="#000"/>
<rect x="4" y="627" width="1599" height="1" fill="#000"/>
<rect x="4" y="725" width="1599" height="1" fill="#000"/>
<rect x="4" y="627" width="1" height="99" fill="#000"/>
<rect x="1602" y="627" width="1" height="99" fill="#000"/>
<rect x="4" y="727" width="1599" height="1" fill="#000"/>
<rect x="4" y="803" width="1599" height="1" fill="#000"/>
<rect x="4" y="727" width="1" height="77" fill="#000"/>
<rect x="1602" y="727" width="1" height="77" fill="#000"/>
<rect x="4" y="367" width="1600" height="2" fill="#ff0000"/>
<rect x="4" y="365" width="6" height="6" fill="#ff0000"/>
<rect x="6" y="367" width="2" height="2" fill="#fff"/>
<rect x="1596" y="365" width="6" height="6" fill="#ff0000"/>
<rect x="1598" y="367" width="2" height="2" fill="#fff"/>
<rect x="4" y="402" width="1600" height="2" fill="#ff0000"/>
<rect x="4" y="400" width="6" height="6" fill="#ff0000"/>
<rect x="6" y="402" width="2" height="2" fill="#fff"/>
<rect x="1596" y="400" width="6" height="6" fill="#ff0000"/>
<rect x="1598" y="402" width="2" height="2" fill="#fff"/>
<rect x="4" y="449" width="1600" height="2" fill="#ff8c00"/>
<rect x="4" y="447" width="6" height="6" fill="#ff8c00"/>
<rect x="6" y="449" width="2" height="2" fill="#fff"/>
<rect x="1596" y="447" width="6" height="6" fill="#ff8c00"/>
<rect x="1598" y="449" width="2" height="2" fill="#fff"/>
<rect x="4" y="485" width="1600" height="2" fill="#0000ff"/>
<rect x="4" y="483" width="6" height="6" fill="#0000ff"/>
<rect x="6" y="485" width="2" height="2" fill="#fff"/>
<rect x="1596" y="483" width="6" height="6" fill="#0000ff"/>
<rect x="1598" y="485" width="2" height="2" fill="#fff"/>
<rect x="4" y="518" width="1600" height="2" fill="#0000ff"/>
<rect x="4" y="516" width="6" height="6" fill="#0000ff"/>
<rect x="6" y="518" width="2" height="2" fill="#fff"/>
<rect x="1596" y="516" width="6" height="6" fill="#0000ff"/>
<rect x="1598" y="518" width="2" height="2" fill="#fff"/>
<g shape-rendering="auto">
<line x1="1204.5" y1="582.0" x2="1296.9" y2="453.0" stroke="#e8141f" stroke-width="3.6"/>
<polygon points="1305.5,441.0 1303.0,459.8 1288.5,449.5" fill="#e8141f"/>
</g>
<rect x="1277" y="29" width="9" height="1" fill="#000"/>
<rect x="1278" y="30" width="7" height="1" fill="#000"/>
<rect x="1279" y="31" width="5" height="1" fill="#000"/>
<rect x="1280" y="32" width="3" height="1" fill="#000"/>
<rect x="1281" y="33" width="1" height="1" fill="#000"/>
<rect x="8" y="35" width="7" height="1" fill="#000"/>
<rect x="9" y="36" width="5" height="1" fill="#000"/>
<rect x="10" y="37" width="3" height="1" fill="#000"/>
<rect x="11" y="38" width="1" height="1" fill="#000"/>
<text transform="translate(20,40) scale(0.9115,1)" font-size="9.9" fill="#000" stroke="#000" stroke-width="0.25" text-anchor="start" style="word-spacing:1.1px;text-rendering:geometricPrecision" >SP500-,H4&#160;&#160;3697.050 3699.050 3697.050 3697.950</text>
<rect x="1603" y="61" width="2" height="1" fill="#000"/>
<text transform="translate(1608,65) scale(0.9115,1)" font-size="9.9" fill="#000" stroke="#000" stroke-width="0.25" text-anchor="start" style="word-spacing:0.9px;text-rendering:geometricPrecision" >3973.935</text>
<rect x="1603" y="94" width="2" height="1" fill="#000"/>
<text transform="translate(1608,98) scale(0.9115,1)" font-size="9.9" fill="#000" stroke="#000" stroke-width="0.25" text-anchor="start" style="word-spacing:0.9px;text-rendering:geometricPrecision" >3950.010</text>
<rect x="1603" y="127" width="2" height="1" fill="#000"/>
<text transform="translate(1608,131) scale(0.9115,1)" font-size="9.9" fill="#000" stroke="#000" stroke-width="0.25" text-anchor="start" style="word-spacing:0.9px;text-rendering:geometricPrecision" >3926.085</text>
<rect x="1603" y="160" width="2" height="1" fill="#000"/>
<text transform="translate(1608,164) scale(0.9115,1)" font-size="9.9" fill="#000" stroke="#000" stroke-width="0.25" text-anchor="start" style="word-spacing:0.9px;text-rendering:geometricPrecision" >3901.435</text>
<rect x="1603" y="193" width="2" height="1" fill="#000"/>
<text transform="translate(1608,197) scale(0.9115,1)" font-size="9.9" fill="#000" stroke="#000" stroke-width="0.25" text-anchor="start" style="word-spacing:0.9px;text-rendering:geometricPrecision" >3877.510</text>
<rect x="1603" y="226" width="2" height="1" fill="#000"/>
<text transform="translate(1608,230) scale(0.9115,1)" font-size="9.9" fill="#000" stroke="#000" stroke-width="0.25" text-anchor="start" style="word-spacing:0.9px;text-rendering:geometricPrecision" >3853.585</text>
<rect x="1603" y="259" width="2" height="1" fill="#000"/>
<text transform="translate(1608,263) scale(0.9115,1)" font-size="9.9" fill="#000" stroke="#000" stroke-width="0.25" text-anchor="start" style="word-spacing:0.9px;text-rendering:geometricPrecision" >3828.935</text>
<rect x="1603" y="292" width="2" height="1" fill="#000"/>
<text transform="translate(1608,296) scale(0.9115,1)" font-size="9.9" fill="#000" stroke="#000" stroke-width="0.25" text-anchor="start" style="word-spacing:0.9px;text-rendering:geometricPrecision" >3805.010</text>
<rect x="1603" y="325" width="2" height="1" fill="#000"/>
<text transform="translate(1608,329) scale(0.9115,1)" font-size="9.9" fill="#000" stroke="#000" stroke-width="0.25" text-anchor="start" style="word-spacing:0.9px;text-rendering:geometricPrecision" >3781.085</text>
<rect x="1603" y="358" width="2" height="1" fill="#000"/>
<text transform="translate(1608,362) scale(0.9115,1)" font-size="9.9" fill="#000" stroke="#000" stroke-width="0.25" text-anchor="start" style="word-spacing:0.9px;text-rendering:geometricPrecision" >3756.435</text>
<rect x="1603" y="391" width="2" height="1" fill="#000"/>
<text transform="translate(1608,395) scale(0.9115,1)" font-size="9.9" fill="#000" stroke="#000" stroke-width="0.25" text-anchor="start" style="word-spacing:0.9px;text-rendering:geometricPrecision" >3732.510</text>
<rect x="1603" y="424" width="2" height="1" fill="#000"/>
<text transform="translate(1608,428) scale(0.9115,1)" font-size="9.9" fill="#000" stroke="#000" stroke-width="0.25" text-anchor="start" style="word-spacing:0.9px;text-rendering:geometricPrecision" >3708.585</text>
<rect x="1603" y="457" width="2" height="1" fill="#000"/>
<text transform="translate(1608,461) scale(0.9115,1)" font-size="9.9" fill="#000" stroke="#000" stroke-width="0.25" text-anchor="start" style="word-spacing:0.9px;text-rendering:geometricPrecision" >3683.935</text>
<rect x="1603" y="490" width="2" height="1" fill="#000"/>
<text transform="translate(1608,494) scale(0.9115,1)" font-size="9.9" fill="#000" stroke="#000" stroke-width="0.25" text-anchor="start" style="word-spacing:0.9px;text-rendering:geometricPrecision" >3660.010</text>
<rect x="1603" y="523" width="2" height="1" fill="#000"/>
<text transform="translate(1608,527) scale(0.9115,1)" font-size="9.9" fill="#000" stroke="#000" stroke-width="0.25" text-anchor="start" style="word-spacing:0.9px;text-rendering:geometricPrecision" >3636.085</text>
<rect x="1603" y="556" width="2" height="1" fill="#000"/>
<text transform="translate(1608,560) scale(0.9115,1)" font-size="9.9" fill="#000" stroke="#000" stroke-width="0.25" text-anchor="start" style="word-spacing:0.9px;text-rendering:geometricPrecision" >3611.435</text>
<rect x="1603" y="589" width="2" height="1" fill="#000"/>
<text transform="translate(1608,593) scale(0.9115,1)" font-size="9.9" fill="#000" stroke="#000" stroke-width="0.25" text-anchor="start" style="word-spacing:0.9px;text-rendering:geometricPrecision" >3587.510</text>
<rect x="1603" y="622" width="2" height="1" fill="#000"/>
<text transform="translate(1608,626) scale(0.9115,1)" font-size="9.9" fill="#000" stroke="#000" stroke-width="0.25" text-anchor="start" style="word-spacing:0.9px;text-rendering:geometricPrecision" >3563.585</text>
<rect x="1604" y="362" width="46" height="11" fill="#ff0000"/>
<text transform="translate(1608,371) scale(0.9115,1)" font-size="9.9" fill="#fff" stroke="#fff" stroke-width="0.25" text-anchor="start" style="word-spacing:0.9px;text-rendering:geometricPrecision" >3749.335</text>
<rect x="1604" y="397" width="46" height="11" fill="#ff0000"/>
<text transform="translate(1608,406) scale(0.9115,1)" font-size="9.9" fill="#fff" stroke="#fff" stroke-width="0.25" text-anchor="start" style="word-spacing:0.9px;text-rendering:geometricPrecision" >3723.742</text>
<rect x="1604" y="433" width="46" height="11" fill="#000"/>
<text transform="translate(1608,442) scale(0.9115,1)" font-size="9.9" fill="#fff" stroke="#fff" stroke-width="0.25" text-anchor="start" style="word-spacing:0.9px;text-rendering:geometricPrecision" >3697.950</text>
<rect x="1604" y="444" width="46" height="11" fill="#ff8c00"/>
<text transform="translate(1608,453) scale(0.9115,1)" font-size="9.9" fill="#fff" stroke="#fff" stroke-width="0.25" text-anchor="start" style="word-spacing:0.9px;text-rendering:geometricPrecision" >3689.374</text>
<rect x="1604" y="480" width="46" height="11" fill="#0000ff"/>
<text transform="translate(1608,489) scale(0.9115,1)" font-size="9.9" fill="#fff" stroke="#fff" stroke-width="0.25" text-anchor="start" style="word-spacing:0.9px;text-rendering:geometricPrecision" >3663.050</text>
<rect x="1604" y="513" width="46" height="11" fill="#0000ff"/>
<text transform="translate(1608,522) scale(0.9115,1)" font-size="9.9" fill="#fff" stroke="#fff" stroke-width="0.25" text-anchor="start" style="word-spacing:0.9px;text-rendering:geometricPrecision" >3638.484</text>
<defs><clipPath id="c2"><rect x="5" y="628" width="1597" height="97"/></clipPath></defs>
<g clip-path="url(#c2)">
<rect x="4" y="628" width="3" height="31" fill="#00ff00"/>
<rect x="20" y="628" width="3" height="30" fill="#00ff00"/>
<rect x="36" y="628" width="3" height="32" fill="#00ff00"/>
<rect x="52" y="628" width="3" height="38" fill="#00ff00"/>
<rect x="68" y="628" width="3" height="43" fill="#00ff00"/>
<rect x="84" y="628" width="3" height="50" fill="#00ff00"/>
<rect x="100" y="628" width="3" height="55" fill="#00ff00"/>
<rect x="116" y="628" width="3" height="59" fill="#00ff00"/>
<rect x="132" y="628" width="3" height="62" fill="#00ff00"/>
<rect x="148" y="628" width="3" height="65" fill="#00ff00"/>
<rect x="164" y="628" width="3" height="65" fill="#00ff00"/>
<rect x="180" y="628" width="3" height="63" fill="#00ff00"/>
<rect x="196" y="628" width="3" height="63" fill="#00ff00"/>
<rect x="212" y="628" width="3" height="65" fill="#00ff00"/>
<rect x="228" y="628" width="3" height="67" fill="#00ff00"/>
<rect x="244" y="628" width="3" height="62" fill="#00ff00"/>
<rect x="260" y="628" width="3" height="56" fill="#00ff00"/>
<rect x="276" y="628" width="3" height="46" fill="#00ff00"/>
<rect x="292" y="628" width="3" height="39" fill="#00ff00"/>
<rect x="308" y="628" width="3" height="35" fill="#00ff00"/>
<rect x="324" y="628" width="3" height="33" fill="#00ff00"/>
<rect x="340" y="628" width="3" height="33" fill="#00ff00"/>
<rect x="356" y="628" width="3" height="35" fill="#00ff00"/>
<rect x="372" y="628" width="3" height="36" fill="#00ff00"/>
<rect x="388" y="628" width="3" height="35" fill="#00ff00"/>
<rect x="404" y="628" width="3" height="36" fill="#00ff00"/>
<rect x="420" y="628" width="3" height="34" fill="#00ff00"/>
<rect x="436" y="628" width="3" height="31" fill="#00ff00"/>
<rect x="452" y="628" width="3" height="41" fill="#00ff00"/>
<rect x="468" y="628" width="3" height="51" fill="#00ff00"/>
<rect x="484" y="628" width="3" height="59" fill="#00ff00"/>
<rect x="500" y="628" width="3" height="60" fill="#00ff00"/>
<rect x="516" y="628" width="3" height="61" fill="#00ff00"/>
<rect x="532" y="628" width="3" height="65" fill="#00ff00"/>
<rect x="548" y="628" width="3" height="69" fill="#00ff00"/>
<rect x="564" y="628" width="3" height="69" fill="#00ff00"/>
<rect x="580" y="628" width="3" height="71" fill="#00ff00"/>
<rect x="596" y="628" width="3" height="73" fill="#00ff00"/>
<rect x="612" y="628" width="3" height="78" fill="#00ff00"/>
<rect x="628" y="628" width="3" height="85" fill="#00ff00"/>
<rect x="644" y="628" width="3" height="88" fill="#00ff00"/>
<rect x="660" y="628" width="3" height="91" fill="#00ff00"/>
<rect x="676" y="628" width="3" height="93" fill="#00ff00"/>
<rect x="692" y="628" width="3" height="93" fill="#00ff00"/>
<rect x="708" y="628" width="3" height="93" fill="#00ff00"/>
<rect x="724" y="628" width="3" height="91" fill="#00ff00"/>
<rect x="740" y="628" width="3" height="92" fill="#00ff00"/>
<rect x="756" y="628" width="3" height="90" fill="#00ff00"/>
<rect x="772" y="628" width="3" height="86" fill="#00ff00"/>
<rect x="788" y="628" width="3" height="78" fill="#00ff00"/>
<rect x="804" y="628" width="3" height="71" fill="#00ff00"/>
<rect x="820" y="628" width="3" height="72" fill="#00ff00"/>
<rect x="836" y="628" width="3" height="73" fill="#00ff00"/>
<rect x="852" y="628" width="3" height="73" fill="#00ff00"/>
<rect x="868" y="628" width="3" height="75" fill="#00ff00"/>
<rect x="884" y="628" width="3" height="77" fill="#00ff00"/>
<rect x="900" y="628" width="3" height="76" fill="#00ff00"/>
<rect x="916" y="628" width="3" height="65" fill="#00ff00"/>
<rect x="932" y="628" width="3" height="52" fill="#00ff00"/>
<rect x="948" y="628" width="3" height="43" fill="#00ff00"/>
<rect x="964" y="628" width="3" height="34" fill="#00ff00"/>
<rect x="980" y="628" width="3" height="34" fill="#00ff00"/>
<rect x="996" y="628" width="3" height="31" fill="#00ff00"/>
<rect x="1012" y="628" width="3" height="33" fill="#00ff00"/>
<rect x="1028" y="628" width="3" height="36" fill="#00ff00"/>
<rect x="1044" y="628" width="3" height="36" fill="#00ff00"/>
<rect x="1060" y="628" width="3" height="39" fill="#00ff00"/>
<rect x="1076" y="628" width="3" height="36" fill="#00ff00"/>
<rect x="1092" y="628" width="3" height="34" fill="#00ff00"/>
<rect x="1108" y="628" width="3" height="36" fill="#00ff00"/>
<rect x="1124" y="628" width="3" height="43" fill="#00ff00"/>
<rect x="1140" y="628" width="3" height="51" fill="#00ff00"/>
<rect x="1156" y="628" width="3" height="55" fill="#00ff00"/>
<rect x="1172" y="628" width="3" height="57" fill="#00ff00"/>
<rect x="1188" y="628" width="3" height="54" fill="#00ff00"/>
<rect x="1204" y="628" width="3" height="44" fill="#00ff00"/>
<rect x="1220" y="628" width="3" height="35" fill="#00ff00"/>
<rect x="1236" y="628" width="3" height="25" fill="#00ff00"/>
<rect x="1252" y="628" width="3" height="17" fill="#00ff00"/>
<polyline points="4.5,639.6 5.5,640 21.5,646.5 37.5,650.5 53.5,654 69.5,658 85.5,661 101.5,664 117.5,667.5 133.5,671 149.5,675 165.5,679 181.5,682.5 197.5,685.5 213.5,688.5 229.5,689 245.5,690.5 261.5,690.5 277.5,689 293.5,686.5 309.5,682.5 325.5,679.5 341.5,676 357.5,672 373.5,669 389.5,666 405.5,664 421.5,662 437.5,661.5 453.5,662 469.5,664 485.5,667 501.5,669 517.5,672 533.5,675 549.5,679 565.5,683 581.5,688 597.5,691.5 613.5,694.5 629.5,697.5 645.5,700.5 661.5,704 677.5,707 693.5,710 709.5,712 725.5,714 741.5,717.5 757.5,718 773.5,718 789.5,717.5 805.5,715 821.5,712 837.5,710 853.5,708.5 869.5,706.5 885.5,704 901.5,703.5 917.5,700.5 933.5,697 949.5,694.5 965.5,690 981.5,685.5 997.5,681 1013.5,676 1029.5,671.5 1045.5,667 1061.5,664 1077.5,663.5 1093.5,662.5 1109.5,662.8 1125.5,663.7 1141.5,665.6 1157.5,668.2 1173.5,670.8 1189.5,672.3 1205.5,673 1221.5,673 1237.5,672.3 1253.5,671" fill="none" stroke="#ff0000" stroke-width="2" stroke-linejoin="round"/>
</g>
<text transform="translate(9.5,640) scale(0.9406,1)" font-size="9.9" fill="#000" stroke="#000" stroke-width="0.25" text-anchor="start" style="word-spacing:0.9px;text-rendering:geometricPrecision" >MACD(12,26,9)</text>
<text transform="translate(78.8,640) scale(0.926,1)" font-size="9.9" fill="#000" stroke="#000" stroke-width="0.25" text-anchor="start" style="word-spacing:0.9px;text-rendering:geometricPrecision" >-8.9406</text>
<text transform="translate(112.7,640) scale(0.926,1)" font-size="9.9" fill="#000" stroke="#000" stroke-width="0.25" text-anchor="start" style="word-spacing:0.9px;text-rendering:geometricPrecision" >-23.0384</text>
<text transform="translate(1606,638) scale(0.9115,1)" font-size="9.9" fill="#000" stroke="#000" stroke-width="0.25" text-anchor="start" style="word-spacing:0.9px;text-rendering:geometricPrecision" >0</text>
<text transform="translate(1606,721.5) scale(0.9115,1)" font-size="9.9" fill="#000" stroke="#000" stroke-width="0.25" text-anchor="start" style="word-spacing:0.9px;text-rendering:geometricPrecision" >-53.7803</text>
<line x1="6" y1="743.5" x2="1602" y2="743.5" stroke="#000" stroke-width="1" stroke-dasharray="3,3"/>
<line x1="6" y1="765.5" x2="1602" y2="765.5" stroke="#000" stroke-width="1" stroke-dasharray="3,3"/>
<line x1="6" y1="791.5" x2="1602" y2="791.5" stroke="#000" stroke-width="1" stroke-dasharray="3,3"/>
<polyline points="4.5,771 5.5,771 21.5,771 37.5,772.5 53.5,776.5 69.5,777 85.5,780 101.5,780 117.5,780 133.5,780 149.5,782 165.5,778 181.5,777.5 197.5,778 213.5,781.5 229.5,782 245.5,775 261.5,767 277.5,765.5 293.5,766 309.5,768 325.5,770 341.5,772 357.5,774 373.5,774 389.5,774 405.5,773.5 421.5,770 437.5,770 453.5,781.5 469.5,783 485.5,783 501.5,776.5 517.5,776 533.5,779.5 549.5,779.5 565.5,778.5 581.5,780.5 597.5,781.5 613.5,784 629.5,785.5 645.5,783.5 661.5,783.5 677.5,785 693.5,783.5 709.5,783 725.5,782 741.5,783 757.5,781.5 773.5,777 789.5,772 805.5,772 821.5,778.5 837.5,779 853.5,779 869.5,781 885.5,781 901.5,780 917.5,766 933.5,764 949.5,764 965.5,764 981.5,770 997.5,769 1013.5,772.5 1029.5,772.5 1045.5,772 1061.5,774 1077.5,768 1093.5,770.5 1109.5,771 1125.5,778 1141.5,778 1157.5,776 1173.5,775 1189.5,771 1205.5,766 1221.5,762 1237.5,761.75 1253.5,761.75" fill="none" stroke="#1e90ff" stroke-width="2" stroke-linejoin="round"/>
<text transform="translate(9.5,740) scale(0.931,1)" font-size="9.9" fill="#000" stroke="#000" stroke-width="0.25" text-anchor="start" style="word-spacing:0.9px;text-rendering:geometricPrecision" >RSI(14)</text>
<text transform="translate(44.5,740) scale(0.9115,1)" font-size="9.9" fill="#000" stroke="#000" stroke-width="0.25" text-anchor="start" style="word-spacing:0.9px;text-rendering:geometricPrecision" >55.3097</text>
<text transform="translate(1606,738) scale(0.9115,1)" font-size="9.9" fill="#000" stroke="#000" stroke-width="0.25" text-anchor="start" style="word-spacing:0.9px;text-rendering:geometricPrecision" >100</text>
<text transform="translate(1606,746.5) scale(0.9115,1)" font-size="9.9" fill="#000" stroke="#000" stroke-width="0.25" text-anchor="start" style="word-spacing:0.9px;text-rendering:geometricPrecision" >80</text>
<text transform="translate(1606,768.5) scale(0.9115,1)" font-size="9.9" fill="#000" stroke="#000" stroke-width="0.25" text-anchor="start" style="word-spacing:0.9px;text-rendering:geometricPrecision" >50</text>
<text transform="translate(1606,794.5) scale(0.9115,1)" font-size="9.9" fill="#000" stroke="#000" stroke-width="0.25" text-anchor="start" style="word-spacing:0.9px;text-rendering:geometricPrecision" >15</text>
<text transform="translate(1606,800) scale(0.9115,1)" font-size="9.9" fill="#000" stroke="#000" stroke-width="0.25" text-anchor="start" style="word-spacing:0.9px;text-rendering:geometricPrecision" >0</text>
<rect x="1603" y="629" width="1" height="1" fill="#000"/>
<rect x="1603" y="724" width="1" height="1" fill="#000"/>
<rect x="1603" y="728" width="1" height="1" fill="#000"/>
<rect x="1603" y="802" width="1" height="1" fill="#000"/>
<rect x="5" y="804" width="1" height="3" fill="#000"/>
<text transform="translate(4.5,816) scale(0.9115,1)" font-size="9.9" fill="#000" stroke="#000" stroke-width="0.25" text-anchor="start" style="word-spacing:0px;text-rendering:geometricPrecision" >15 Sep 2022</text>
<rect x="69" y="804" width="1" height="3" fill="#000"/>
<text transform="translate(68.5,816) scale(0.9115,1)" font-size="9.9" fill="#000" stroke="#000" stroke-width="0.25" text-anchor="start" style="word-spacing:0.2px;text-rendering:geometricPrecision" >15 Sep 16:00</text>
<rect x="133" y="804" width="1" height="3" fill="#000"/>
<text transform="translate(132.5,816) scale(0.9115,1)" font-size="9.9" fill="#000" stroke="#000" stroke-width="0.25" text-anchor="start" style="word-spacing:0.2px;text-rendering:geometricPrecision" >16 Sep 08:00</text>
<rect x="197" y="804" width="1" height="3" fill="#000"/>
<text transform="translate(196.5,816) scale(0.9115,1)" font-size="9.9" fill="#000" stroke="#000" stroke-width="0.25" text-anchor="start" style="word-spacing:0.2px;text-rendering:geometricPrecision" >19 Sep 00:00</text>
<rect x="261" y="804" width="1" height="3" fill="#000"/>
<text transform="translate(260.5,816) scale(0.9115,1)" font-size="9.9" fill="#000" stroke="#000" stroke-width="0.25" text-anchor="start" style="word-spacing:0.2px;text-rendering:geometricPrecision" >19 Sep 16:00</text>
<rect x="325" y="804" width="1" height="3" fill="#000"/>
<text transform="translate(324.5,816) scale(0.9115,1)" font-size="9.9" fill="#000" stroke="#000" stroke-width="0.25" text-anchor="start" style="word-spacing:0.2px;text-rendering:geometricPrecision" >20 Sep 08:00</text>
<rect x="389" y="804" width="1" height="3" fill="#000"/>
<text transform="translate(388.5,816) scale(0.9115,1)" font-size="9.9" fill="#000" stroke="#000" stroke-width="0.25" text-anchor="start" style="word-spacing:0.2px;text-rendering:geometricPrecision" >21 Sep 00:00</text>
<rect x="453" y="804" width="1" height="3" fill="#000"/>
<text transform="translate(452.5,816) scale(0.9115,1)" font-size="9.9" fill="#000" stroke="#000" stroke-width="0.25" text-anchor="start" style="word-spacing:0.2px;text-rendering:geometricPrecision" >21 Sep 16:00</text>
<rect x="517" y="804" width="1" height="3" fill="#000"/>
<text transform="translate(516.5,816) scale(0.9115,1)" font-size="9.9" fill="#000" stroke="#000" stroke-width="0.25" text-anchor="start" style="word-spacing:0.2px;text-rendering:geometricPrecision" >22 Sep 08:00</text>
<rect x="581" y="804" width="1" height="3" fill="#000"/>
<text transform="translate(580.5,816) scale(0.9115,1)" font-size="9.9" fill="#000" stroke="#000" stroke-width="0.25" text-anchor="start" style="word-spacing:0.2px;text-rendering:geometricPrecision" >23 Sep 00:00</text>
<rect x="645" y="804" width="1" height="3" fill="#000"/>
<text transform="translate(644.5,816) scale(0.9115,1)" font-size="9.9" fill="#000" stroke="#000" stroke-width="0.25" text-anchor="start" style="word-spacing:0.2px;text-rendering:geometricPrecision" >23 Sep 16:00</text>
<rect x="709" y="804" width="1" height="3" fill="#000"/>
<text transform="translate(708.5,816) scale(0.9115,1)" font-size="9.9" fill="#000" stroke="#000" stroke-width="0.25" text-anchor="start" style="word-spacing:0.2px;text-rendering:geometricPrecision" >26 Sep 08:00</text>
<rect x="773" y="804" width="1" height="3" fill="#000"/>
<text transform="translate(772.5,816) scale(0.9115,1)" font-size="9.9" fill="#000" stroke="#000" stroke-width="0.25" text-anchor="start" style="word-spacing:0.2px;text-rendering:geometricPrecision" >27 Sep 00:00</text>
<rect x="837" y="804" width="1" height="3" fill="#000"/>
<text transform="translate(836.5,816) scale(0.9115,1)" font-size="9.9" fill="#000" stroke="#000" stroke-width="0.25" text-anchor="start" style="word-spacing:0.2px;text-rendering:geometricPrecision" >27 Sep 16:00</text>
<rect x="901" y="804" width="1" height="3" fill="#000"/>
<text transform="translate(900.5,816) scale(0.9115,1)" font-size="9.9" fill="#000" stroke="#000" stroke-width="0.25" text-anchor="start" style="word-spacing:0.2px;text-rendering:geometricPrecision" >28 Sep 08:00</text>
<rect x="965" y="804" width="1" height="3" fill="#000"/>
<text transform="translate(964.5,816) scale(0.9115,1)" font-size="9.9" fill="#000" stroke="#000" stroke-width="0.25" text-anchor="start" style="word-spacing:0.2px;text-rendering:geometricPrecision" >29 Sep 00:00</text>
<rect x="1029" y="804" width="1" height="3" fill="#000"/>
<text transform="translate(1028.5,816) scale(0.9115,1)" font-size="9.9" fill="#000" stroke="#000" stroke-width="0.25" text-anchor="start" style="word-spacing:0.2px;text-rendering:geometricPrecision" >29 Sep 16:00</text>
<rect x="1093" y="804" width="1" height="3" fill="#000"/>
<text transform="translate(1092.5,816) scale(0.9115,1)" font-size="9.9" fill="#000" stroke="#000" stroke-width="0.25" text-anchor="start" style="word-spacing:0.2px;text-rendering:geometricPrecision" >30 Sep 08:00</text>
<rect x="1157" y="804" width="1" height="3" fill="#000"/>
<text transform="translate(1156.5,816) scale(0.9115,1)" font-size="9.9" fill="#000" stroke="#000" stroke-width="0.25" text-anchor="start" style="word-spacing:1.0px;text-rendering:geometricPrecision" >3 Oct 00:00</text>
<rect x="1221" y="804" width="1" height="3" fill="#000"/>
<text transform="translate(1220.5,816) scale(0.9115,1)" font-size="9.9" fill="#000" stroke="#000" stroke-width="0.25" text-anchor="start" style="word-spacing:1.0px;text-rendering:geometricPrecision" >3 Oct 16:00</text>
</svg>
</body></html>
